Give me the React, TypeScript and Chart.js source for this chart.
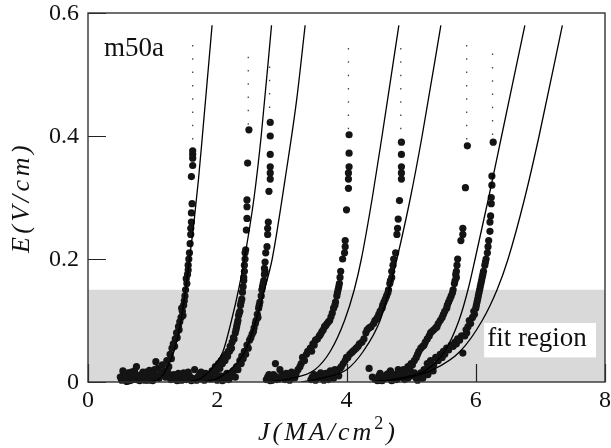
import React, { useEffect, useRef } from "react";
import { Chart, registerables } from "chart.js";

Chart.register(...registerables);

// ---- axes ----
const X_MIN = 0;
const X_MAX = 8;
const Y_MIN = 0;
const Y_MAX = 0.6;
const xTickValues = [0, 2, 4, 6, 8];
const xTickLabels = ["0", "2", "4", "6", "8"];
const yTickValues = [0, 0.2, 0.4, 0.6];
const yTickLabels = ["0", "0.2", "0.4", "0.6"];
const FIT_REGION_MAX = 0.15;
const SAMPLE_LABEL = "m50a";
const FIT_LABEL = "fit region";

// ---- measured data (J, E) ----
const cluster1: [number, number][] = [
  [0.52, 0.003], [0.55, 0.012], [0.58, 0.006], [0.62, 0.015], [0.65, 0.002], [0.68, 0.009],
  [0.72, 0.018], [0.75, 0.004], [0.75, 0.025], [0.78, 0.011], [0.82, 0.007], [0.85, 0.016],
  [0.88, 0.003], [0.92, 0.01], [0.95, 0.019], [0.98, 0.005], [1.02, 0.013], [1.05, 0.033],
  [1.05, 0.008], [1.08, 0.022], [1.12, 0.012], [1.15, 0.028], [1.18, 0.018], [1.22, 0.035],
  [1.25, 0.025], [1.27, 0.045], [1.3, 0.055], [1.32, 0.062], [1.35, 0.07], [1.37, 0.08],
  [1.4, 0.09], [1.42, 0.098], [1.44, 0.105], [1.46, 0.115], [1.48, 0.125], [1.5, 0.14],
  [1.51, 0.15], [1.53, 0.16], [1.54, 0.175], [1.55, 0.19], [1.56, 0.2], [1.57, 0.21],
  [1.59, 0.25], [1.6, 0.26], [1.6, 0.275], [1.61, 0.29], [1.6, 0.334], [1.62, 0.352],
  [1.62, 0.364], [1.62, 0.37], [1.62, 0.376],
  [0.5, 0.008], [0.54, 0.018], [0.6, 0.001], [0.63, 0.008], [0.67, 0.016], [0.7, 0.004],
  [0.73, 0.011], [0.8, 0.002], [0.83, 0.012], [0.87, 0.009], [0.9, 0.016], [0.93, 0.003],
  [0.97, 0.012], [1.0, 0.002], [1.03, 0.02], [1.1, 0.006], [1.14, 0.016], [1.2, 0.008],
  [1.24, 0.015], [1.29, 0.038], [1.34, 0.058], [1.38, 0.072], [1.41, 0.085], [1.45, 0.12],
  [1.47, 0.108], [1.49, 0.132], [1.52, 0.168], [1.55, 0.182], [1.58, 0.225], [1.59, 0.24],
];
const cluster2: [number, number][] = [
  [1.28, 0.004], [1.33, 0.012], [1.38, 0.002], [1.43, 0.009], [1.48, 0.015], [1.52, 0.004],
  [1.57, 0.01], [1.62, 0.006], [1.65, 0.02], [1.68, 0.003], [1.72, 0.011], [1.77, 0.005],
  [1.82, 0.014], [1.87, 0.008], [1.92, 0.018], [1.97, 0.025], [2.02, 0.03], [2.06, 0.035],
  [2.1, 0.04], [2.14, 0.045], [2.17, 0.05], [2.2, 0.058], [2.23, 0.065], [2.25, 0.072],
  [2.28, 0.08], [2.3, 0.09], [2.32, 0.1], [2.33, 0.108], [2.35, 0.115], [2.36, 0.125],
  [2.38, 0.135], [2.39, 0.146], [2.41, 0.165], [2.41, 0.17], [2.42, 0.19], [2.43, 0.2],
  [2.43, 0.21], [2.44, 0.215], [2.45, 0.247], [2.46, 0.266], [2.46, 0.285], [2.46, 0.296],
  [2.47, 0.356], [2.49, 0.41],
  [1.3, 0.009], [1.35, 0.004], [1.4, 0.014], [1.45, 0.003], [1.5, 0.01], [1.55, 0.016],
  [1.6, 0.002], [1.7, 0.008], [1.75, 0.016], [1.8, 0.003], [1.85, 0.012], [1.9, 0.005],
  [1.95, 0.012], [2.0, 0.02], [2.04, 0.022], [2.08, 0.03], [2.12, 0.035], [2.16, 0.042],
  [2.19, 0.05], [2.22, 0.055], [2.26, 0.07], [2.29, 0.085], [2.31, 0.095], [2.34, 0.112],
  [2.37, 0.13], [2.4, 0.155], [2.42, 0.18],
];
const cluster3: [number, number][] = [
  [2.0, 0.003], [2.05, 0.01], [2.1, 0.005], [2.15, 0.014], [2.2, 0.008], [2.25, 0.018],
  [2.3, 0.025], [2.35, 0.035], [2.38, 0.042], [2.42, 0.05], [2.46, 0.06], [2.5, 0.068],
  [2.54, 0.078], [2.57, 0.088], [2.6, 0.1], [2.62, 0.11], [2.64, 0.12], [2.66, 0.13],
  [2.68, 0.14], [2.7, 0.155], [2.72, 0.165], [2.73, 0.175], [2.73, 0.185], [2.74, 0.195],
  [2.75, 0.21], [2.77, 0.22], [2.78, 0.24], [2.78, 0.25], [2.79, 0.26], [2.8, 0.31],
  [2.82, 0.33], [2.82, 0.34], [2.82, 0.35], [2.82, 0.37], [2.82, 0.4], [2.82, 0.422],
  [2.02, 0.008], [2.08, 0.002], [2.12, 0.01], [2.18, 0.004], [2.22, 0.012], [2.28, 0.008],
  [2.32, 0.02], [2.37, 0.03], [2.4, 0.038], [2.44, 0.045], [2.48, 0.055], [2.52, 0.072],
  [2.56, 0.082], [2.59, 0.095], [2.63, 0.105], [2.65, 0.125], [2.69, 0.15], [2.71, 0.16],
  [2.74, 0.18],
];
const cluster4: [number, number][] = [
  [2.76, 0.004], [2.8, 0.012], [2.85, 0.003], [2.9, 0.009], [2.9, 0.03], [2.95, 0.005],
  [2.97, 0.02], [3.0, 0.013], [3.05, 0.004], [3.1, 0.01], [3.15, 0.016], [3.2, 0.007],
  [3.25, 0.02], [3.3, 0.03], [3.32, 0.04], [3.38, 0.045], [3.44, 0.055], [3.48, 0.062],
  [3.52, 0.068], [3.58, 0.075], [3.62, 0.082], [3.66, 0.09], [3.7, 0.095], [3.74, 0.1],
  [3.78, 0.112], [3.8, 0.12], [3.83, 0.13], [3.85, 0.14], [3.87, 0.15], [3.89, 0.16],
  [3.9, 0.17], [3.91, 0.18], [3.94, 0.2], [3.97, 0.21], [3.98, 0.22], [3.98, 0.23],
  [4.0, 0.28], [4.03, 0.315], [4.03, 0.33], [4.03, 0.34], [4.04, 0.35], [4.04, 0.372],
  [4.04, 0.402],
  [2.78, 0.008], [2.82, 0.002], [2.87, 0.012], [2.92, 0.004], [3.02, 0.008], [3.07, 0.014],
  [3.12, 0.003], [3.18, 0.012], [3.22, 0.014], [3.28, 0.025], [3.35, 0.035], [3.4, 0.05],
  [3.46, 0.05], [3.5, 0.06], [3.55, 0.07], [3.6, 0.078], [3.64, 0.085], [3.68, 0.092],
  [3.72, 0.098], [3.76, 0.106], [3.82, 0.125], [3.86, 0.145], [3.88, 0.155],
];
const cluster5: [number, number][] = [
  [3.45, 0.004], [3.5, 0.012], [3.55, 0.006], [3.6, 0.015], [3.65, 0.003], [3.7, 0.01],
  [3.75, 0.018], [3.8, 0.006], [3.85, 0.014], [3.9, 0.022], [3.95, 0.03], [4.0, 0.04],
  [4.05, 0.045], [4.1, 0.05], [4.15, 0.055], [4.2, 0.062], [4.27, 0.07], [4.3, 0.08],
  [4.35, 0.088], [4.42, 0.095], [4.46, 0.102], [4.5, 0.11], [4.55, 0.12], [4.58, 0.13],
  [4.62, 0.14], [4.65, 0.15], [4.67, 0.16], [4.7, 0.17], [4.7, 0.18], [4.72, 0.19],
  [4.76, 0.21], [4.78, 0.24], [4.79, 0.25], [4.8, 0.265], [4.82, 0.295], [4.85, 0.33],
  [4.85, 0.34], [4.85, 0.35], [4.85, 0.37], [4.85, 0.39],
  [3.47, 0.008], [3.52, 0.003], [3.58, 0.01], [3.62, 0.006], [3.68, 0.014], [3.72, 0.004],
  [3.78, 0.012], [3.82, 0.02], [3.88, 0.01], [3.92, 0.025], [3.98, 0.035], [4.02, 0.04],
  [4.08, 0.048], [4.12, 0.052], [4.18, 0.058], [4.24, 0.065], [4.32, 0.085], [4.38, 0.09],
  [4.44, 0.1], [4.48, 0.105], [4.52, 0.115], [4.56, 0.125], [4.6, 0.135], [4.64, 0.145],
  [4.68, 0.165], [4.73, 0.2],
];
const cluster6: [number, number][] = [
  [4.35, 0.022], [4.45, 0.004], [4.5, 0.01], [4.55, 0.003], [4.6, 0.008], [4.65, 0.014],
  [4.7, 0.005], [4.75, 0.012], [4.8, 0.02], [4.85, 0.008], [4.9, 0.016], [4.95, 0.025],
  [5.0, 0.03], [5.05, 0.035], [5.1, 0.045], [5.15, 0.055], [5.2, 0.06], [5.25, 0.07],
  [5.3, 0.08], [5.35, 0.085], [5.4, 0.09], [5.45, 0.1], [5.5, 0.11], [5.55, 0.12],
  [5.58, 0.13], [5.62, 0.14], [5.65, 0.15], [5.67, 0.16], [5.7, 0.17], [5.7, 0.18],
  [5.71, 0.19], [5.72, 0.2], [5.77, 0.23], [5.8, 0.24], [5.8, 0.25], [5.84, 0.316],
  [5.87, 0.384],
  [4.4, 0.008], [4.48, 0.002], [4.52, 0.014], [4.58, 0.006], [4.62, 0.012], [4.68, 0.018],
  [4.72, 0.01], [4.78, 0.004], [4.82, 0.014], [4.88, 0.02], [4.92, 0.01], [4.98, 0.02],
  [5.02, 0.028], [5.08, 0.04], [5.12, 0.05], [5.18, 0.058], [5.22, 0.065], [5.28, 0.075],
  [5.32, 0.082], [5.38, 0.088], [5.42, 0.095], [5.48, 0.105], [5.52, 0.115], [5.56, 0.125],
  [5.6, 0.135], [5.64, 0.145], [5.68, 0.165], [5.69, 0.175],
];
const cluster7: [number, number][] = [
  [4.55, 0.002], [4.65, 0.008], [4.75, 0.004], [4.85, 0.012], [4.95, 0.006], [5.05, 0.015],
  [5.12, 0.01], [5.2, 0.02], [5.25, 0.03], [5.3, 0.035], [5.38, 0.04], [5.45, 0.045],
  [5.5, 0.05], [5.55, 0.055], [5.62, 0.06], [5.68, 0.065], [5.72, 0.07], [5.78, 0.075],
  [5.83, 0.075], [5.86, 0.08], [5.88, 0.09], [5.9, 0.1], [5.95, 0.105], [5.98, 0.11],
  [6.0, 0.12], [6.02, 0.13], [6.04, 0.14], [6.06, 0.15], [6.08, 0.16], [6.1, 0.17],
  [6.12, 0.18], [6.14, 0.19], [6.16, 0.2], [6.18, 0.21], [6.2, 0.23], [6.22, 0.245],
  [6.22, 0.26], [6.23, 0.27], [6.24, 0.29], [6.24, 0.3], [6.25, 0.32], [6.25, 0.335],
  [6.27, 0.39],
  [4.6, 0.006], [4.7, 0.002], [4.8, 0.008], [4.9, 0.004], [5.0, 0.01], [5.08, 0.006],
  [5.15, 0.015], [5.22, 0.012], [5.28, 0.022], [5.35, 0.028], [5.42, 0.035], [5.48, 0.04],
  [5.52, 0.045], [5.58, 0.052], [5.65, 0.058], [5.7, 0.062], [5.75, 0.068], [5.8, 0.047],
  [5.85, 0.085], [5.92, 0.095], [5.97, 0.115], [6.01, 0.125], [6.03, 0.135], [6.05, 0.145],
  [6.07, 0.155], [6.09, 0.165], [6.11, 0.175], [6.15, 0.195], [6.19, 0.22],
  [5.1, 0.003], [5.18, 0.006], [5.26, 0.012], [5.34, 0.018],
];
const clusters = [cluster1, cluster2, cluster3, cluster4, cluster5, cluster6, cluster7];

// ---- fit curves (J, E) ----
const fit1: [number, number][] = [
  [0.95, 0], [1.1, 0.005], [1.21, 0.02], [1.33, 0.05], [1.44, 0.1], [1.51, 0.15],
  [1.57, 0.2], [1.64, 0.26], [1.71, 0.33], [1.77, 0.4], [1.92, 0.58],
];
const fit2: [number, number][] = [
  [1.55, 0], [1.75, 0.006], [1.9, 0.02], [2.09, 0.05], [2.22, 0.1], [2.33, 0.15],
  [2.42, 0.2], [2.57, 0.3], [2.68, 0.4], [2.84, 0.58],
];
const fit3: [number, number][] = [
  [1.8, 0], [2.0, 0.006], [2.2, 0.02], [2.43, 0.05], [2.6, 0.1], [2.73, 0.15],
  [2.85, 0.2], [3.05, 0.33], [3.23, 0.46], [3.36, 0.58],
];
const fit4: [number, number][] = [
  [2.8, 0], [3.15, 0.006], [3.51, 0.02], [3.75, 0.05], [3.97, 0.1], [4.12, 0.15],
  [4.23, 0.2], [4.4, 0.3], [4.55, 0.4], [4.81, 0.58],
];
const fit5: [number, number][] = [
  [3.3, 0], [3.6, 0.006], [4.0, 0.02], [4.26, 0.05], [4.52, 0.1], [4.66, 0.15],
  [4.78, 0.2], [4.99, 0.3], [5.17, 0.4], [5.46, 0.58],
];
const fit6: [number, number][] = [
  [4.4, 0], [4.8, 0.006], [5.24, 0.02], [5.52, 0.05], [5.74, 0.1], [5.88, 0.15],
  [5.99, 0.2], [6.2, 0.3], [6.4, 0.4], [6.76, 0.58],
];
const fit7: [number, number][] = [
  [4.4, 0], [4.9, 0.006], [5.34, 0.02], [5.76, 0.05], [6.1, 0.1], [6.33, 0.15],
  [6.5, 0.2], [6.76, 0.3], [6.98, 0.4], [7.34, 0.58],
];
const fits = [fit1, fit2, fit3, fit4, fit5, fit6, fit7];

// ---- dotted continuation lines ----
const dotJ = [1.62, 2.48, 2.81, 4.03, 4.84, 5.86, 6.26];
const dotTop = [0.548, 0.529, 0.513, 0.543, 0.543, 0.548, 0.534];
const dotBottom = [0.376, 0.41, 0.422, 0.402, 0.39, 0.384, 0.39];

const SERIF = '"Liberation Serif", "Times New Roman", serif';

const decorPlugin = {
  id: "decor",
  beforeDatasetsDraw(chart: any) {
    const { ctx, chartArea: a, scales } = chart;
    const x = scales.x;
    const y = scales.y;
    ctx.save();
    const yb = y.getPixelForValue(FIT_REGION_MAX);
    ctx.fillStyle = "#d9d9d9";
    ctx.fillRect(a.left, yb, a.right - a.left, a.bottom - yb);
    ctx.strokeStyle = "#222";
    ctx.lineWidth = 1.2;
    ctx.beginPath();
    for (const v of xTickValues) {
      const px = Math.round(x.getPixelForValue(v)) + 0.5;
      ctx.moveTo(px, a.bottom);
      ctx.lineTo(px, a.bottom - 18);
    }
    for (const v of yTickValues) {
      const py = Math.round(y.getPixelForValue(v)) + 0.5;
      ctx.moveTo(a.left, py);
      ctx.lineTo(a.left + 18, py);
    }
    ctx.stroke();
    ctx.restore();
  },
  afterDatasetsDraw(chart: any) {
    const { ctx, chartArea: a, scales } = chart;
    const x = scales.x;
    const y = scales.y;
    ctx.save();
    // frame
    ctx.strokeStyle = "#333";
    ctx.lineWidth = 1.4;
    ctx.strokeRect(a.left, a.top, a.right - a.left, a.bottom - a.top);

    // fit region label box
    const bx0 = x.getPixelForValue(6.13);
    const bx1 = x.getPixelForValue(7.86);
    const by0 = y.getPixelForValue(0.096);
    const by1 = y.getPixelForValue(0.04);
    ctx.fillStyle = "#fff";
    ctx.fillRect(bx0, by0, bx1 - bx0, by1 - by0);
    ctx.fillStyle = "#111";
    ctx.font = `27px ${SERIF}`;
    ctx.textAlign = "left";
    ctx.textBaseline = "alphabetic";
    ctx.fillText(FIT_LABEL, bx0 + 3, by1 - 11);

    // sample label
    ctx.fillText(SAMPLE_LABEL, a.left + 16, a.top + 43);

    // tick labels
    ctx.font = `24px ${SERIF}`;
    ctx.textAlign = "right";
    ctx.textBaseline = "middle";
    yTickValues.forEach((v, i) => {
      ctx.fillText(yTickLabels[i], a.left - 9, y.getPixelForValue(v) + 1);
    });
    ctx.textAlign = "center";
    ctx.textBaseline = "alphabetic";
    xTickValues.forEach((v, i) => {
      ctx.fillText(xTickLabels[i], x.getPixelForValue(v), a.bottom + 25);
    });

    // y title
    ctx.save();
    ctx.translate(22, (a.top + a.bottom) / 2);
    ctx.rotate(-Math.PI / 2);
    ctx.font = `italic 26px ${SERIF}`;
    (ctx as any).letterSpacing = "3.5px";
    ctx.textAlign = "center";
    ctx.textBaseline = "middle";
    ctx.fillText("E(V/cm)", 0, 0);
    ctx.restore();

    // x title with superscript
    ctx.font = `italic 26px ${SERIF}`;
    (ctx as any).letterSpacing = "3px";
    ctx.textAlign = "left";
    ctx.textBaseline = "alphabetic";
    const main = "J(MA/cm";
    const sup = "2";
    const close = ")";
    const wMain = ctx.measureText(main).width;
    const wClose = ctx.measureText(close).width;
    ctx.font = `18px ${SERIF}`;
    const wSup = ctx.measureText(sup).width;
    const total = wMain + wSup + wClose;
    const cx = 328;
    const base = 440;
    let px = cx - total / 2;
    ctx.font = `italic 26px ${SERIF}`;
    ctx.fillText(main, px, base);
    px += wMain;
    ctx.font = `18px ${SERIF}`;
    ctx.fillText(sup, px, base - 11);
    px += wSup;
    ctx.font = `italic 26px ${SERIF}`;
    ctx.fillText(close, px, base);
    ctx.restore();
  },
};

export default function App() {
  const ref = useRef<HTMLCanvasElement | null>(null);
  useEffect(() => {
    if (!ref.current) return;
    const datasets: any[] = [];
    fits.forEach((f) => {
      datasets.push({
        data: f.map(([j, e]) => ({ x: j, y: e })),
        showLine: true,
        borderColor: "#000",
        borderWidth: 1.3,
        pointRadius: 0,
        cubicInterpolationMode: "monotone",
        fill: false,
      });
    });
    dotJ.forEach((j, i) => {
      datasets.push({
        data: [
          { x: j, y: dotTop[i] },
          { x: j, y: dotBottom[i] },
        ],
        showLine: true,
        borderColor: "#444",
        borderWidth: 1.3,
        borderDash: [1.5, 11.8],
        pointRadius: 0,
        fill: false,
      });
    });
    clusters.forEach((c) => {
      datasets.push({
        data: c.map(([j, e]) => ({ x: j, y: e })),
        showLine: false,
        pointRadius: 3.6,
        pointBorderWidth: 0,
        backgroundColor: "#141414",
        pointBackgroundColor: "#141414",
        clip: 5,
      });
    });
    const chart = new Chart(ref.current, {
      type: "scatter",
      data: { datasets },
      options: {
        animation: false,
        responsive: false,
        devicePixelRatio: 1,
        layout: { padding: { left: 88, right: 6, top: 13, bottom: 66 } },
        scales: {
          x: { type: "linear", min: X_MIN, max: X_MAX, display: false },
          y: { type: "linear", min: Y_MIN, max: Y_MAX, display: false },
        },
        plugins: { legend: { display: false }, tooltip: { enabled: false } },
        events: [],
      },
      plugins: [decorPlugin],
    } as any);
    return () => chart.destroy();
  }, []);
  return (
    <div style={{ position: "absolute", left: 0, top: 0, width: 611, height: 448, background: "#fff" }}>
      <canvas ref={ref} width={611} height={448} style={{ display: "block" }} />
    </div>
  );
}
